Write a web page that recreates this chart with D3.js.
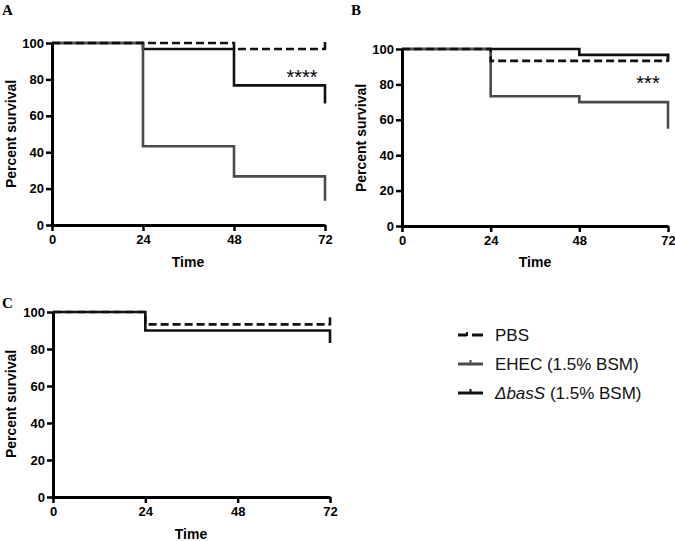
<!DOCTYPE html>
<html>
<head>
<meta charset="utf-8">
<script src="https://cdn.jsdelivr.net/npm/d3@7"></script>
<style>
  html, body { margin: 0; padding: 0; background: #fff; }
  svg { display: block; }
</style>
</head>
<body>
<svg id="chart" width="675" height="541"></svg>
<script>
// ---------- data ----------
const times = [0, 24, 48, 72];
const xTicks = [0, 24, 48, 72];
const yTicks = [0, 20, 40, 60, 80, 100];
const panelLabels = ["A", "B", "C"];
const seriesNames = ["PBS", "EHEC (1.5% BSM)", "\u0394basS (1.5% BSM)"];
const significance = ["****", "***", ""];

// percent survival after each time point (0, 24, 48, 72 h)
const pbsA   = [100, 100, 96.7, 96.7];
const ehecA  = [100, 43.3, 26.7, 13.3];
const basSA  = [100, 96.7, 76.7, 66.7];

const pbsB   = [100, 93.3, 93.3, 93.3];
const ehecB  = [100, 73.3, 70.0, 55.0];
const basSB  = [100, 100, 96.7, 93.3];

const pbsC   = [100, 93.3, 93.3, 93.3];
const basSC  = [100, 90.0, 90.0, 83.3];

// ---------- layout / style ----------
const panels = [
  { label: panelLabels[0], series: [basSA, ehecA, pbsA], sig: significance[0],
    left: 52, right: 325, top: 43, bottom: 225, labelPos: [2, 15], sigPos: [302, 84],
    yTitle: [16, 134], xTitle: [188, 267] },
  { label: panelLabels[1], series: [basSB, ehecB, pbsB], sig: significance[1],
    left: 402, right: 668, top: 49, bottom: 226, labelPos: [351, 15], sigPos: [648, 90],
    yTitle: [366, 138], xTitle: [535, 267] },
  { label: panelLabels[2], series: [basSC, null, pbsC], sig: significance[2],
    left: 53, right: 330, top: 312, bottom: 497, labelPos: [2, 308], sigPos: [0, 0],
    yTitle: [16, 404], xTitle: [191, 539] }
];
// order in panel.series: [ΔbasS, EHEC, PBS]
const seriesStyle = [
  { color: "#111", dash: null, width: 2.6 },
  { color: "#4a4a4a", dash: null, width: 2.6 },
  { color: "#111", dash: "8,4", width: 2.6 }
];

const svg = d3.select("#chart");
const boldFont = "'Liberation Sans', Arial, Helvetica, sans-serif";

panels.forEach(p => {
  const x = d3.scaleLinear().domain([0, 72]).range([p.left, p.right]);
  const y = d3.scaleLinear().domain([0, 100]).range([p.bottom, p.top]);
  const g = svg.append("g");

  // panel letter
  g.append("text").attr("x", p.labelPos[0]).attr("y", p.labelPos[1])
    .attr("font-family", "'Liberation Serif', 'Times New Roman', serif")
    .attr("font-weight", "bold").attr("font-size", 15).text(p.label);

  // axes
  const yAxis = d3.axisLeft(y).tickValues(yTicks).tickSize(6).tickPadding(2).tickSizeOuter(0);
  const xAxis = d3.axisBottom(x).tickValues(xTicks).tickSize(6).tickPadding(3).tickSizeOuter(0);
  const gy = g.append("g").attr("transform", `translate(${p.left},0)`).call(yAxis);
  const gx = g.append("g").attr("transform", `translate(0,${p.bottom})`).call(xAxis);
  [gx, gy].forEach(a => {
    a.select(".domain").attr("stroke", "#000").attr("stroke-width", 3);
    a.selectAll(".tick line").attr("stroke", "#000").attr("stroke-width", 2.5);
    a.selectAll(".tick text").attr("fill", "#000").attr("font-family", boldFont)
      .attr("font-weight", "bold").attr("font-size", 13);
  });
  gx.selectAll(".tick text").attr("dy", "0.75em");

  // axis titles
  g.append("text").attr("text-anchor", "middle")
    .attr("transform", `translate(${p.yTitle[0]},${p.yTitle[1]}) rotate(-90)`)
    .attr("font-family", boldFont).attr("font-weight", "bold").attr("font-size", 14)
    .text("Percent survival");
  g.append("text").attr("text-anchor", "middle")
    .attr("x", p.xTitle[0]).attr("y", p.xTitle[1])
    .attr("font-family", boldFont).attr("font-weight", "bold").attr("font-size", 14)
    .text("Time");

  // survival curves
  const line = d3.line().x(d => x(d[0])).y(d => y(d[1])).curve(d3.curveStepAfter);
  p.series.forEach((vals, i) => {
    if (!vals) return;
    const st = seriesStyle[i];
    const pts = times.map((t, k) => [t, vals[k]]);
    g.append("path").attr("d", line(pts)).attr("fill", "none")
      .attr("stroke", st.color).attr("stroke-width", st.width)
      .attr("stroke-dasharray", st.dash).attr("stroke-linecap", "butt");
    // censor mark at final time for PBS
    if (i === 2) {
      const last = vals[vals.length - 1];
      g.append("line").attr("x1", x(72)).attr("x2", x(72))
        .attr("y1", y(last) + 1).attr("y2", y(last) - 7)
        .attr("stroke", st.color).attr("stroke-width", 2.6);
    }
  });

  if (p.sig) {
    g.append("text").attr("x", p.sigPos[0]).attr("y", p.sigPos[1]).attr("text-anchor", "middle")
      .attr("font-family", boldFont).attr("font-size", 20)
      .attr("fill", "#000").text(p.sig);
  }
});

// ---------- legend ----------
const legend = svg.append("g");
const legendRows = [
  { name: seriesNames[0], style: seriesStyle[2], y: 335 },
  { name: seriesNames[1], style: seriesStyle[1], y: 364 },
  { name: seriesNames[2], style: seriesStyle[0], y: 393 }
];
legendRows.forEach((r, i) => {
  if (i === 0) {
    legend.append("line").attr("x1", 458).attr("x2", 467).attr("y1", r.y).attr("y2", r.y)
      .attr("stroke", r.style.color).attr("stroke-width", 3);
    legend.append("line").attr("x1", 472).attr("x2", 483).attr("y1", r.y).attr("y2", r.y)
      .attr("stroke", r.style.color).attr("stroke-width", 3);
    legend.append("line").attr("x1", 467).attr("x2", 467).attr("y1", r.y - 3).attr("y2", r.y + 1)
      .attr("stroke", r.style.color).attr("stroke-width", 2);
  } else {
    legend.append("line").attr("x1", 458).attr("x2", 483).attr("y1", r.y).attr("y2", r.y)
      .attr("stroke", r.style.color).attr("stroke-width", 3);
    legend.append("line").attr("x1", 470.5).attr("x2", 470.5).attr("y1", r.y - 4).attr("y2", r.y)
      .attr("stroke", r.style.color).attr("stroke-width", 2);
  }
  const t = legend.append("text").attr("x", 495).attr("y", r.y + 6)
    .attr("font-family", boldFont).attr("font-size", 17).attr("fill", "#111");
  if (i === 2) {
    t.append("tspan").attr("font-style", "italic").text("\u0394basS");
    t.append("tspan").text(" (1.5% BSM)");
  } else {
    t.text(r.name);
  }
});
</script>
</body>
</html>
